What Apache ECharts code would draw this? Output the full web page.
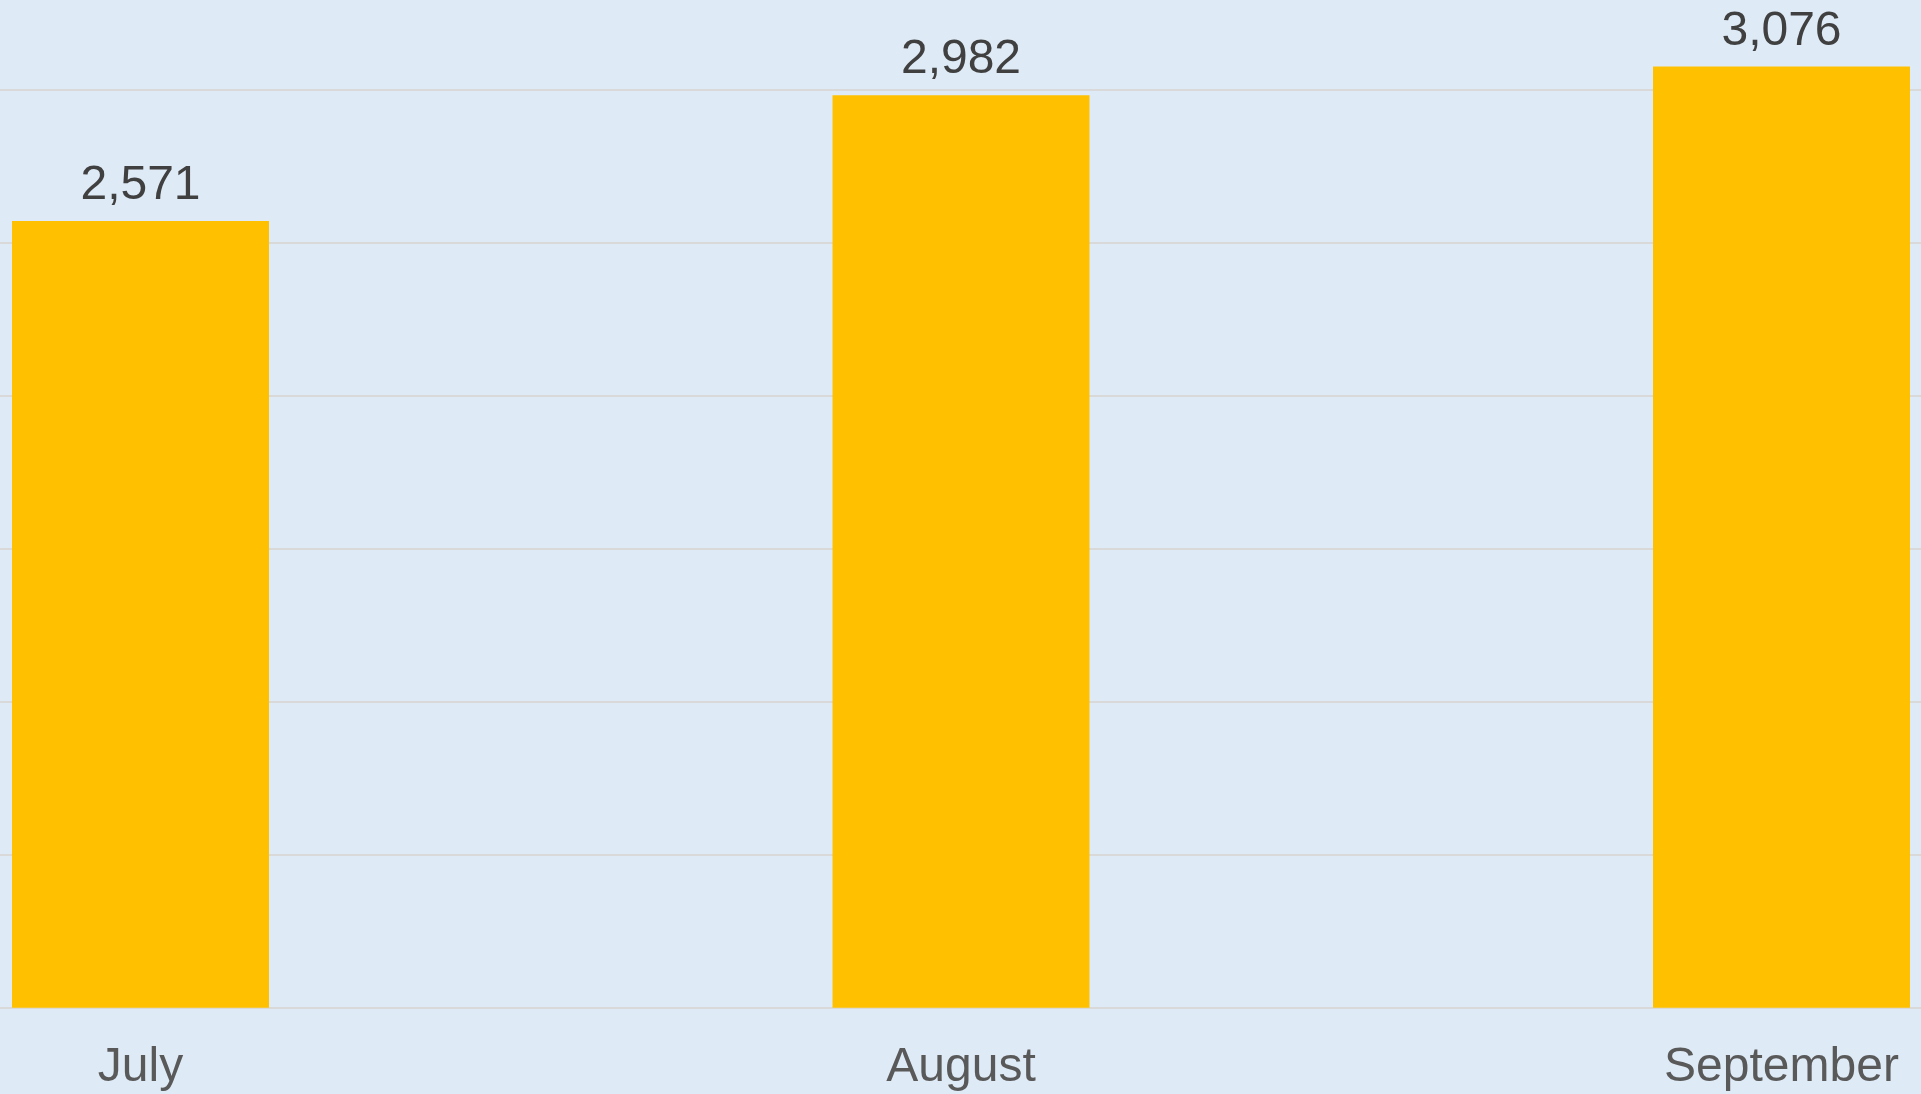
<!DOCTYPE html>
<html>
<head>
<meta charset="utf-8">
<script src="https://cdn.jsdelivr.net/npm/echarts@6/dist/echarts.min.js"></script>
<style>
html,body{margin:0;padding:0;background:#DEEAF6;}
#chart{width:1921px;height:1094px;}
</style>
</head>
<body>
<div id="chart"></div>
<script>
const categories = ["July", "August", "September"];
const values = [2571, 2982, 3076];
const yTicks = [0, 500, 1000, 1500, 2000, 2500, 3000];

const FONT = 'Liberation Sans, Arial, sans-serif';
const chart = echarts.init(document.getElementById('chart'));
chart.setOption({
  backgroundColor: '#DEEAF6',
  animation: false,
  grid: [
    { left: 140.5, right: 139.5, top: 0, bottom: 86.3, containLabel: false },
    { left: 0, right: 0, top: 0, bottom: 86.3, containLabel: false }
  ],
  xAxis: [{
    gridIndex: 0,
    type: 'category',
    data: categories,
    boundaryGap: false,
    axisTick: { show: false },
    axisLine: { show: false },
    splitLine: { show: false },
    axisLabel: { color: '#595959', fontSize: 48, fontFamily: FONT, margin: 36 }
  }, {
    gridIndex: 1,
    type: 'value',
    min: 0, max: 1,
    show: false
  }],
  yAxis: [{
    gridIndex: 0,
    type: 'value',
    min: 0,
    max: 3293,
    interval: 500,
    axisLabel: { show: false },
    axisLine: { show: false },
    axisTick: { show: false },
    splitLine: { show: false }
  }, {
    gridIndex: 1,
    type: 'value',
    min: 0,
    max: 3293,
    interval: 500,
    axisLabel: { show: false },
    axisLine: { show: false },
    axisTick: { show: false },
    splitLine: { show: true, showMaxLine: false, lineStyle: { color: '#D9D9D9', width: 2 } }
  }],
  series: [{
    type: 'bar',
    xAxisIndex: 0,
    yAxisIndex: 0,
    data: values,
    barWidth: 257,
    itemStyle: { color: '#FFC000' },
    label: {
      show: true,
      position: 'top',
      distance: 11,
      color: '#404040',
      fontSize: 48,
      fontFamily: FONT,
      formatter: p => p.value.toLocaleString('en-US')
    }
  }]
});
</script>
</body>
</html>
